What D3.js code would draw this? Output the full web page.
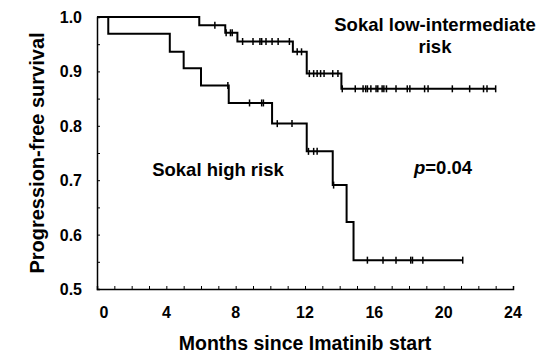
<!DOCTYPE html>
<html>
<head>
<meta charset="utf-8">
<script src="https://cdn.jsdelivr.net/npm/d3@7"></script>
<style>
  body { margin: 0; background: #fff; }
  svg { font-family: Arial, "Liberation Sans", sans-serif; }
</style>
</head>
<body>
<svg id="km"></svg>
<script>
// step times (months) and survival after each step
var lowTimes = [0, 5.9, 7.4, 8.1, 11.3, 12.1, 14.1]
var lowSurv = [1, 0.985, 0.971, 0.955, 0.936, 0.896, 0.868]
var lowEnd = 23.0
var lowCensor = [6.8, 7.45, 7.7, 7.8, 8.4, 9.0, 9.4, 9.5, 9.75, 10.1, 10.45, 11.1, 11.55, 11.8,
    12.25, 12.5, 12.7, 12.9, 13.1, 13.6, 13.9, 14.15, 14.9, 15.35, 15.5, 15.6, 15.8, 16.1, 16.2,
    16.45, 16.55, 16.7, 17.25, 17.9, 18.05, 18.9, 19.1, 20.5, 21.5, 22.3, 22.5, 23.0]

var highTimes = [0, 0.65, 4.2, 5.0, 6.0, 7.6, 10.1, 12.1, 13.6, 14.4, 14.8]
var highSurv = [1, 0.969, 0.936, 0.906, 0.874, 0.842, 0.804, 0.753, 0.691, 0.623, 0.553]
var highEnd = 21.1
var highCensor = [7.55, 8.8, 9.5, 9.6, 10.4, 11.25, 12.2, 12.5, 12.7, 13.65, 15.6, 16.5, 17.25,
    18.1, 18.2, 18.8, 21.1]

var xTickLabels = [0, 4, 8, 12, 16, 20, 24]
var yTickLabels = [0.5, 0.6, 0.7, 0.8, 0.9, 1.0]

var dimensions = {
    width: 541,
    height: 356,
    margin: { top: 17, bottom: 67, right: 28, left: 97 }
}

var svg = d3.select("#km")
    .attr("width", dimensions.width)
    .attr("height", dimensions.height)

var xScale = d3.scaleLinear()
    .domain([0, 24])
    .range([dimensions.margin.left, dimensions.width - dimensions.margin.right])

var yScale = d3.scaleLinear()
    .domain([0.5, 1.0])
    .range([dimensions.height - dimensions.margin.bottom, dimensions.margin.top])

function survAt(times, surv, t) {
    var s = surv[0]
    for (var i = 0; i < times.length; i++) {
        if (times[i] <= t) s = surv[i]
    }
    return s
}

function stepPoints(times, surv, end) {
    var pts = times.map((t, i) => [t, surv[i]])
    pts.push([end, surv[surv.length - 1]])
    return pts
}

var line = d3.line()
    .x(d => xScale(d[0]))
    .y(d => yScale(d[1]))
    .curve(d3.curveStepAfter)

// axes, ticks point inward
var xAxisgen = d3.axisBottom(xScale)
    .tickValues(d3.range(0, 25, 1))
    .tickSize(-3)
    .tickFormat("")
var yAxisgen = d3.axisLeft(yScale)
    .tickValues(d3.range(0, 11).map(i => 0.5 + i * 0.05))
    .tickSize(-3)
    .tickFormat("")

var xAxis = svg.append("g")
    .attr("transform", `translate(0,${yScale(0.5)})`)
    .call(xAxisgen)
var yAxis = svg.append("g")
    .attr("transform", `translate(${xScale(0)},0)`)
    .call(yAxisgen)

svg.selectAll(".domain").attr("stroke", "#000").attr("stroke-width", 1.5)
svg.selectAll(".tick line").attr("stroke", "#000")

svg.append("g").selectAll("text")
    .data(xTickLabels)
    .enter()
    .append("text")
    .attr("x", d => xScale(d) + (d === 0 ? 7 : 0))
    .attr("y", yScale(0.5) + 29)
    .attr("text-anchor", "middle")
    .style("font-size", "16px")
    .style("font-weight", "bold")
    .text(d => d)

svg.append("g").selectAll("text")
    .data(yTickLabels)
    .enter()
    .append("text")
    .attr("x", xScale(0) - 15)
    .attr("y", d => yScale(d) + 6)
    .attr("text-anchor", "end")
    .style("font-size", "16px")
    .style("font-weight", "bold")
    .text(d => d.toFixed(1))

// curves
var series = [
    { times: lowTimes, surv: lowSurv, end: lowEnd, censor: lowCensor },
    { times: highTimes, surv: highSurv, end: highEnd, censor: highCensor }
]

series.forEach(function(s) {
    svg.append("path")
        .datum(stepPoints(s.times, s.surv, s.end))
        .attr("d", line)
        .attr("fill", "none")
        .attr("stroke", "#000")
        .attr("stroke-width", 2)

    svg.append("g").selectAll("line")
        .data(s.censor)
        .enter()
        .append("line")
        .attr("x1", d => xScale(d))
        .attr("x2", d => xScale(d))
        .attr("y1", d => yScale(survAt(s.times, s.surv, d)) - 3.5)
        .attr("y2", d => yScale(survAt(s.times, s.surv, d)) + 3.5)
        .attr("stroke", "#000")
        .attr("stroke-width", 1.5)
})

// labels
svg.append("text")
    .attr("x", 435).attr("y", 31)
    .attr("text-anchor", "middle")
    .style("font-size", "18.5px").style("font-weight", "bold")
    .text("Sokal low-intermediate")
svg.append("text")
    .attr("x", 435).attr("y", 53)
    .attr("text-anchor", "middle")
    .style("font-size", "18.5px").style("font-weight", "bold")
    .text("risk")

svg.append("text")
    .attr("x", 218).attr("y", 176)
    .attr("text-anchor", "middle")
    .style("font-size", "18.5px").style("font-weight", "bold")
    .text("Sokal high risk")

var pText = svg.append("text")
    .attr("x", 414).attr("y", 174)
    .style("font-size", "18.5px").style("font-weight", "bold")
pText.append("tspan").style("font-style", "italic").text("p")
pText.append("tspan").text("=0.04")

svg.append("text")
    .attr("transform", `translate(44,${(yScale(0.5) + yScale(1)) / 2}) rotate(-90)`)
    .attr("text-anchor", "middle")
    .style("font-size", "20px").style("font-weight", "bold")
    .text("Progression-free survival")

svg.append("text")
    .attr("x", 305).attr("y", 350)
    .attr("text-anchor", "middle")
    .style("font-size", "19.5px").style("font-weight", "bold")
    .text("Months since Imatinib start")
</script>
</body>
</html>
